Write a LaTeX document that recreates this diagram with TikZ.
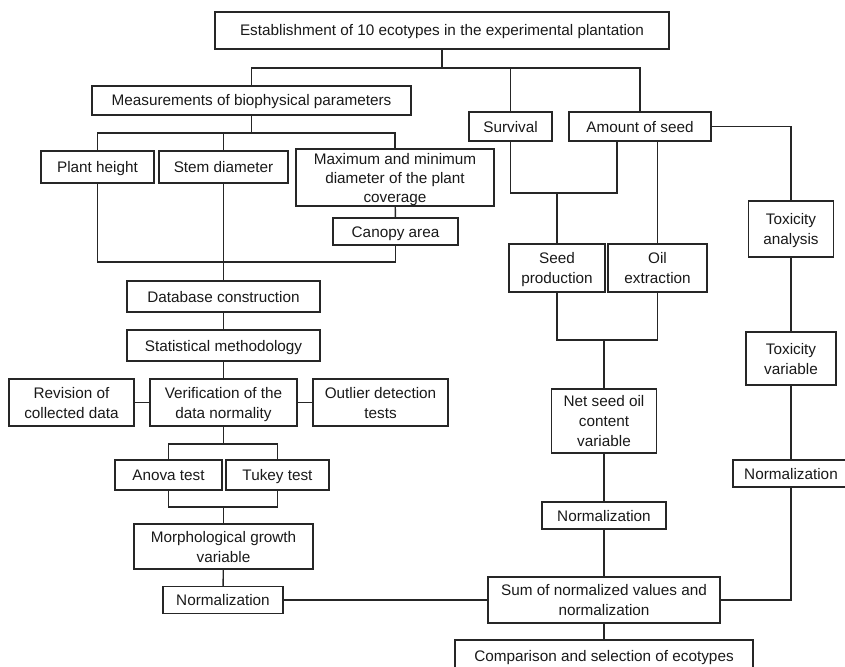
\documentclass[tikz,border=0pt]{standalone}
\usepackage{fontspec}
\setmainfont{Liberation Sans}
\newcommand{\boxstrut}{\rule[-1pt]{0pt}{16pt}}
\newcommand{\onestrut}{\rule[-4pt]{0pt}{19pt}}
\tikzstyle{box} = [rectangle, draw=black!85, line width=1.4pt, inner sep=0pt, align=center, text=black!90,
  execute at begin node=\onestrut, execute at end node=\onestrut]
\tikzstyle{link} = [draw=black!85, line width=1.4pt]
\tikzset{wh/.style 2 args={minimum width=#1pt, minimum height=#2pt}}

\begin{document}
\begin{tikzpicture}[x=1pt, y=-1pt]
                \tikzstyle{every node}=[font=\fontsize{15.3}{20}\selectfont]
                \useasboundingbox (0,0) rectangle (845,666);

                % top of the chart
                \node[box, wh={454}{37}](est) at (442,30.5) {Establishment of 10 ecotypes in the experimental plantation};
                \node[box, wh={319}{29}](meas) at (251.5,100.5) {Measurements of biophysical parameters};
                \node[box, wh={83}{29}](surv) at (510.5,126.5) {Survival};
                \node[box, wh={142}{29}](amount) at (640,126.5) {Amount of seed};

                % biophysical parameters
                \node[box, wh={113}{32}](plant) at (97.5,167) {Plant height};
                \node[box, wh={129}{32}](stem) at (223.5,167) {Stem diameter};
                \node[box, wh={198}{55}, font=\fontsize{15.3}{19}\selectfont](maxmin) at (395,177.5) {\boxstrut Maximum and minimum\\diameter of the plant\\coverage\boxstrut};
                \node[box, wh={125}{27}](canopy) at (395.5,231.5) {Canopy area};

                % statistics branch
                \node[box, wh={193}{31}](db) at (223.5,296.5) {Database construction};
                \node[box, wh={193}{31}](stat) at (223.5,345.5) {Statistical methodology};
                \node[box, wh={125}{47}](revision) at (71.5,402.5) {\boxstrut Revision of\\collected data\boxstrut};
                \node[box, wh={147}{47}](verif) at (223.5,402.5) {\boxstrut Verification of the\\data normality\boxstrut};
                \node[box, wh={135}{47}](outlier) at (380.5,402.5) {\boxstrut Outlier detection\\tests\boxstrut};
                \node[box, wh={107}{30}](anova) at (168.5,475) {Anova test};
                \node[box, wh={103}{30}](tukey) at (277.5,475) {Tukey test};
                \node[box, wh={179}{45}](morph) at (223.5,546.5) {\boxstrut Morphological growth\\variable\boxstrut};
                \node[box, wh={120}{27}](norml) at (223,600) {Normalization};

                % seed oil branch
                \node[box, wh={96}{48}](seedp) at (557,268) {\boxstrut Seed\\production\boxstrut};
                \node[box, wh={99}{48}](oil) at (657.5,268) {\boxstrut Oil\\extraction\boxstrut};
                \node[box, wh={105}{64}](netseed) at (604,421) {\boxstrut Net seed oil\\content\\variable\boxstrut};
                \node[box, wh={124}{27}](normm) at (604,515.5) {Normalization};

                % toxicity branch
                \node[box, wh={85}{56}](toxa) at (791,229) {\boxstrut Toxicity\\analysis\boxstrut};
                \node[box, wh={90}{53}](toxv) at (791,358.5) {\boxstrut Toxicity\\variable\boxstrut};
                \node[box, wh={116}{27}](normr) at (791,473.5) {Normalization};

                % final steps
                \node[box, wh={232}{46}](sum) at (604,600) {\boxstrut Sum of normalized values and\\normalization\boxstrut};
                \node[box, wh={298}{31}](comp) at (604,655.5) {Comparison and selection of ecotypes};

                % junction points
                \coordinate (bus1) at (0,68);
                \coordinate (bus2) at (0,133);
                \coordinate (bus3) at (0,262);
                \coordinate (bus4) at (0,444);
                \coordinate (bus5) at (0,507);
                \coordinate (bus7) at (0,340);
                \coordinate (seedjoin) at (617,193);

                \draw[link] (est) -- (est |- bus1);
                \draw[link] (meas) |- (amount |- bus1) -- (amount);
                \draw[link] (surv) -- (surv |- bus1);

                \draw[link] (meas) -- (meas |- bus2);
                \draw[link] (plant) |- (maxmin |- bus2) -- (maxmin);
                \draw[link] (stem) -- (stem |- bus2);
                \draw[link] (maxmin) -- (canopy);

                \draw[link] (plant) |- (canopy |- bus3) -- (canopy);
                \draw[link] (stem) -- (stem |- bus3);
                \draw[link] (db) -- (db |- bus3);
                \draw[link] (db) -- (stat);
                \draw[link] (stat) -- (verif);
                \draw[link] (revision) -- (verif);
                \draw[link] (verif) -- (outlier);

                \draw[link] (verif) -- (verif |- bus4);
                \draw[link] (anova) |- (tukey |- bus4) -- (tukey);
                \draw[link] (anova) |- (tukey |- bus5) -- (tukey);
                \draw[link] (morph) -- (morph |- bus5);
                \draw[link] (morph) -- (norml);
                \draw[link] (norml) -- (sum);

                % seed oil links
                \draw[link] (surv) |- (seedjoin) -- (seedjoin |- amount.south);
                \draw[link] (seedp) -- (seedp |- seedjoin);
                \draw[link] (oil) -- (oil |- amount.south);
                \draw[link] (seedp) |- (oil |- bus7) -- (oil);
                \draw[link] (netseed) -- (netseed |- bus7);
                \draw[link] (netseed) -- (normm);
                \draw[link] (normm) -- (sum);
                \draw[link] (sum) -- (comp);

                % toxicity links
                \draw[link] (amount) -| (toxa);
                \draw[link] (toxa) -- (toxv);
                \draw[link] (toxv) -- (normr);
                \draw[link] (normr) |- (sum);

        \end{tikzpicture}
\end{document}
